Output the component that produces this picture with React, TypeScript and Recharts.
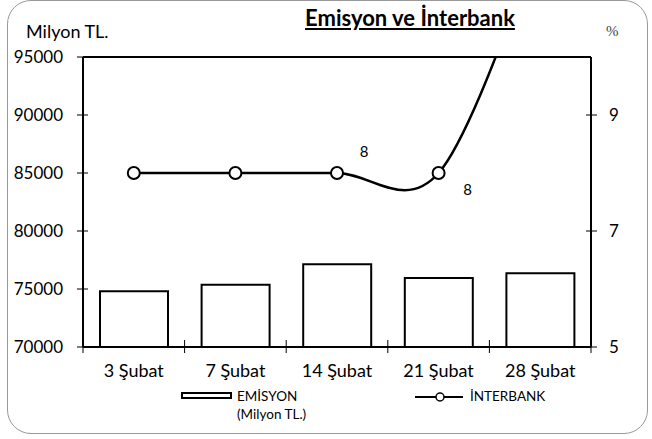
import React from "react";
import { ComposedChart, Bar, Line, XAxis, YAxis, ReferenceLine, LabelList } from "recharts";

const categories = ["3 Şubat", "7 Şubat", "14 Şubat", "21 Şubat", "28 Şubat"];
const emisyon = [74800, 75370, 77130, 75950, 76350];
const interbank = [8, 8, 8, 8, 12];
const leftTicks = [70000, 75000, 80000, 85000, 90000, 95000];
const rightTicks = [5, 7, 9];

const data = categories.map((c, i) => ({ name: c, emisyon: emisyon[i], interbank: interbank[i] }));

const W = 652;
const H = 439;
const PLOT_L = 83;
const PLOT_R = 591;
const PLOT_T = 57;
const PLOT_B = 347;
const HALF_BAND = (PLOT_R - PLOT_L) / categories.length / 2;
const FONT = "Lato, 'Open Sans', sans-serif";

// Catmull-Rom style smoothing (like Excel's smoothed line)
const smoothCurve: any = (context: any) => {
  let pts: number[][] = [];
  return {
    areaStart() {},
    areaEnd() {},
    lineStart() {
      pts = [];
    },
    point(x: number, y: number) {
      pts.push([+x, +y]);
    },
    lineEnd() {
      const n = pts.length;
      if (!n) return;
      context.moveTo(pts[0][0], pts[0][1]);
      for (let i = 0; i < n - 1; i++) {
        const p0 = pts[Math.max(i - 1, 0)];
        const p1 = pts[i];
        const p2 = pts[i + 1];
        const p3 = pts[Math.min(i + 2, n - 1)];
        context.bezierCurveTo(
          p1[0] + (p2[0] - p0[0]) / 6,
          p1[1] + (p2[1] - p0[1]) / 6,
          p2[0] - (p3[0] - p1[0]) / 6,
          p2[1] - (p3[1] - p1[1]) / 6,
          p2[0],
          p2[1]
        );
      }
    },
  };
};

const LeftTick = (props: any) => {
  const { x, y, payload } = props;
  return (
    <g>
      <line x1={x - 6} x2={x + 5} y1={y} y2={y} stroke="#000" strokeWidth={1} />
      <text x={x - 20} y={y} dy={6} textAnchor="end" fontSize={17} fontFamily={FONT} fill="#000">
        {payload.value}
      </text>
    </g>
  );
};

const RightTick = (props: any) => {
  const { x, y, payload } = props;
  return (
    <g>
      <line x1={x - 5} x2={x + 6} y1={y} y2={y} stroke="#000" strokeWidth={1} />
      <text x={x + 18} y={y} dy={6} textAnchor="start" fontSize={17} fontFamily={FONT} fill="#000">
        {payload.value}
      </text>
    </g>
  );
};

const XTick = (props: any) => {
  const { x, y, payload, index } = props;
  return (
    <g>
      <line x1={x - HALF_BAND} x2={x - HALF_BAND} y1={y - 7} y2={y + 6} stroke="#000" strokeWidth={1} />
      {index === categories.length - 1 && (
        <line x1={x + HALF_BAND} x2={x + HALF_BAND} y1={y - 7} y2={y + 6} stroke="#000" strokeWidth={1} />
      )}
      <text x={x} y={y + 24} dy={6} textAnchor="middle" fontSize={18} fontFamily={FONT} fill="#000">
        {payload.value}
      </text>
    </g>
  );
};

const PointLabel = (props: any) => {
  const { x, y, value, index } = props;
  if (index === 2) {
    return (
      <text x={x + 27} y={y - 21} dy={5} textAnchor="middle" fontSize={15} fontFamily={FONT} fill="#000">
        {value}
      </text>
    );
  }
  if (index === 3) {
    return (
      <text x={x + 29} y={y + 17} dy={5} textAnchor="middle" fontSize={15} fontFamily={FONT} fill="#000">
        {value}
      </text>
    );
  }
  return null;
};

export default function App() {
  return (
    <div style={{ position: "absolute", left: 0, top: 0, width: W, height: H, background: "#fff", fontFamily: FONT }}>
      <div
        style={{
          position: "absolute",
          left: 7,
          top: 0,
          width: 641,
          height: 434,
          border: "1.5px solid #999",
          borderRadius: 24,
          boxSizing: "border-box",
        }}
      />
      <div style={{ position: "absolute", left: 26, top: 20, fontSize: 18, lineHeight: "22px", color: "#000" }}>Milyon TL.</div>
      <div
        style={{
          position: "absolute",
          left: 290,
          top: 5,
          width: 240,
          textAlign: "center",
          fontSize: 22,
          lineHeight: "26px",
          fontWeight: 700,
          textDecoration: "underline",
          color: "#000",
        }}
      >
        Emisyon ve İnterbank
      </div>
      <div style={{ position: "absolute", left: 606, top: 23, fontSize: 15, color: "#444", fontFamily: "'Liberation Serif', serif" }}>%</div>
      <ComposedChart
        width={W}
        height={H}
        data={data}
        margin={{ top: PLOT_T, right: 0, left: 0, bottom: H - PLOT_B - 30 }}
        barCategoryGap="16%"
        style={{ position: "absolute", left: 0, top: 0 }}
      >
        <XAxis
          dataKey="name"
          xAxisId="x"
          height={30}
          tickSize={0}
          tickMargin={0}
          tickLine={false}
          axisLine={{ stroke: "#000", strokeWidth: 2 }}
          tick={<XTick />}
          interval={0}
        />
        <YAxis
          yAxisId="left"
          orientation="left"
          width={PLOT_L}
          domain={[70000, 95000]}
          ticks={leftTicks}
          allowDataOverflow
          tickSize={0}
          tickMargin={0}
          tickLine={false}
          axisLine={{ stroke: "#000", strokeWidth: 2 }}
          tick={<LeftTick />}
        />
        <YAxis
          yAxisId="right"
          orientation="right"
          width={W - PLOT_R}
          domain={[5, 10]}
          ticks={rightTicks}
          allowDataOverflow
          tickSize={0}
          tickMargin={0}
          tickLine={false}
          axisLine={{ stroke: "#000", strokeWidth: 2 }}
          tick={<RightTick />}
        />
        <ReferenceLine xAxisId="x" yAxisId="left" y={95000} stroke="#000" strokeWidth={2} />
        <Bar
          xAxisId="x"
          yAxisId="left"
          dataKey="emisyon"
          fill="#fff"
          stroke="#000"
          strokeWidth={2}
          barSize={68}
          isAnimationActive={false}
        />
        <Line
          xAxisId="x"
          yAxisId="right"
          dataKey="interbank"
          type={smoothCurve}
          stroke="#000"
          strokeWidth={2.5}
          dot={{ r: 6, fill: "#fff", stroke: "#000", strokeWidth: 2 }}
          isAnimationActive={false}
        >
          <LabelList dataKey="interbank" content={<PointLabel />} />
        </Line>
      </ComposedChart>
      {/* legend */}
      <div style={{ position: "absolute", left: 181, top: 392, width: 51, height: 7, border: "2.5px solid #000", boxSizing: "border-box" }} />
      <div style={{ position: "absolute", left: 237, top: 387, fontSize: 13.5, lineHeight: "18px", color: "#000" }}>
        EMİSYON
        <br />
        (Milyon TL.)
      </div>
      <svg style={{ position: "absolute", left: 412, top: 388 }} width={56} height={18}>
        <line x1={3} x2={51} y1={9} y2={9} stroke="#000" strokeWidth={2} />
        <circle cx={28} cy={9} r={4} fill="#fff" stroke="#000" strokeWidth={1.5} />
      </svg>
      <div style={{ position: "absolute", left: 470, top: 387, fontSize: 13.5, lineHeight: "18px", color: "#000" }}>İNTERBANK</div>
    </div>
  );
}
